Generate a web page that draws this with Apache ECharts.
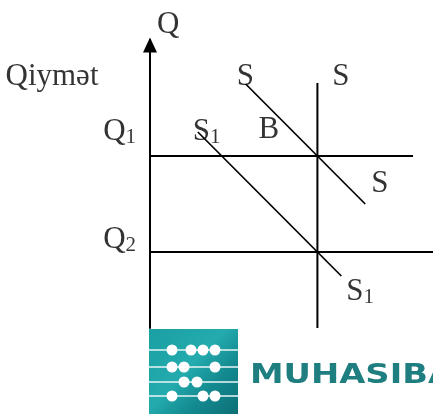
<!DOCTYPE html>
<html>
<head>
<meta charset="utf-8">
<script src="https://cdn.jsdelivr.net/npm/echarts@6/dist/echarts.min.js"></script>
<style>
  html,body{margin:0;padding:0;background:#fff;}
  #chart{width:433px;height:414px;}
</style>
</head>
<body>
<div id="chart"></div>
<script>
// ---- data (1 unit = 4px) ----
const supplyS   = [[24, 61], [54, 31]];      // S-S
const supplyS1  = [[12, 49], [48, 13]];      // S1-S1
const priceQ1   = [[0, 43], [66, 43]];
const priceQ2   = [[0, 19], [71, 19]];
const vertLine  = [[42, 61.25], [42, 0]];

// labels: [x, y, text]
const labels = [
  [1.75, 75.75, '{m|Q}'],
  [-36.25, 62.75, '{m|Qiymət}'],
  [21.75, 62.75, '{m|S}'],
  [45.75, 62.75, '{m|S}'],
  [-11.75, 49, '{m|Q}{s|1}'],
  [10.75, 49, '{m|S}{s|1}'],
  [27.25, 49.5, '{m|B}'],
  [55.5, 36, '{m|S}'],
  [-11.75, 22, '{m|Q}{s|2}'],
  [49.25, 9, '{m|S}{s|1}']
];

// logo abacus rows (y px) and bead x positions
const beadRows = [350, 367, 382, 396];
const beads = [
  [172, 191, 203, 215],
  [172, 184, 215],
  [184, 197],
  [172, 203, 215]
];

const chart = echarts.init(document.getElementById('chart'));

const lineSeries = (data, w) => ({
  type:'line', data, symbol:'none', silent:true, clip:false,
  lineStyle:{ color:'#000', width:w || 2 }, z:3
});

const logo = [
  {
    type:'rect', shape:{ x:149, y:329, width:89, height:85 },
    style:{ fill: new echarts.graphic.LinearGradient(0, 0, 1, 1, [
      { offset:0, color:'#1a9fa3' },
      { offset:0.45, color:'#23abad' },
      { offset:0.7, color:'#13898f' },
      { offset:1, color:'#0d6f76' }
    ]) }, z:10
  }
];
beadRows.forEach((y, i) => {
  logo.push({ type:'line', shape:{ x1:149, y1:y, x2:238, y2:y },
    style:{ stroke:'#e8f6f6', lineWidth:1.5 }, z:11 });
  beads[i].forEach(x => {
    logo.push({ type:'circle', shape:{ cx:x, cy:y, r:5.5 }, style:{ fill:'#fff' }, z:12 });
  });
});
logo.push({
  type:'text', x:250, y:376, scaleX:1.25,
  style:{ text:'MUHASIBAT', fill:'#1f7e80', font:'bold 27px "DejaVu Sans"',
    textVerticalAlign:'middle' }, z:10
});

chart.setOption({
  backgroundColor:'#fff',
  animation:false,
  grid:{ left:150, top:40, width:284, height:288, containLabel:false },
  xAxis:{
    type:'value', min:0, max:71, show:false
  },
  yAxis:{
    type:'value', min:0, max:72,
    axisLine:{ show:true, symbol:['none','triangle'], symbolSize:[14,15], symbolOffset:[0,-5],
      lineStyle:{ color:'#000', width:2 } },
    axisTick:{ show:false }, axisLabel:{ show:false }, splitLine:{ show:false }
  },
  series:[
    lineSeries(priceQ1),
    lineSeries(priceQ2),
    lineSeries(vertLine),
    lineSeries(supplyS, 1.7),
    lineSeries(supplyS1, 1.7),
    {
      type:'scatter', symbolSize:0, clip:false, silent:true, z:5,
      data: labels.map(l => ({ value:[l[0], l[1]], name:l[2] })),
      label:{
        show:true, position:[0,0], align:'left', verticalAlign:'middle', color:'#000',
        formatter: p => p.name,
        rich:{
          m:{ fontFamily:'"Liberation Serif"', fontSize:31, lineHeight:31, color:'#000', verticalAlign:'bottom' },
          s:{ fontFamily:'"Liberation Serif"', fontSize:21, lineHeight:21, color:'#000', verticalAlign:'bottom' }
        }
      }
    }
  ],
  graphic: logo
});
</script>
</body>
</html>
